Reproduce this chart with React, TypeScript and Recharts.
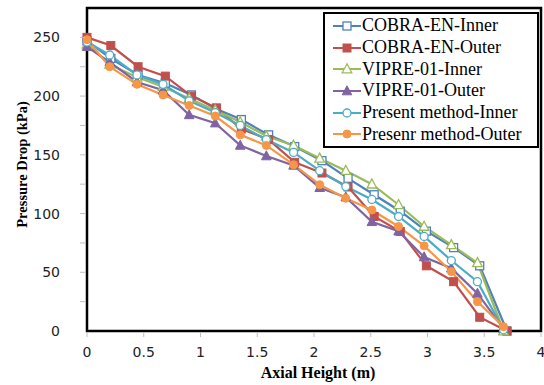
import React from 'react';
import { LineChart, Line, XAxis, YAxis, ReferenceArea, Label } from 'recharts';

const xCobra = [0, 0.21, 0.45, 0.69, 0.92, 1.14, 1.36, 1.6, 1.83, 2.07, 2.3, 2.53, 2.76, 2.99, 3.23, 3.46, 3.7];
const xOther = [0, 0.2, 0.44, 0.67, 0.9, 1.13, 1.35, 1.58, 1.82, 2.05, 2.28, 2.51, 2.745, 2.97, 3.21, 3.44, 3.67];

const cobraInner = [247, 232, 218, 211, 201, 189, 180, 167, 157, 145, 130, 116, 102, 85, 71, 55.5, 0];
const cobraOuter = [250, 243, 225, 217, 200, 190, 172, 163, 143.6, 134.5, 122.6, 97.5, 84.7, 55.5, 42, 11.7, 0];
const vipreInner = [244, 227, 216, 208, 198, 188, 178, 166, 158, 147, 136.5, 125, 107.5, 89, 73.4, 58, 0];
const vipreOuter = [242, 229, 212, 205, 184, 177, 158, 149, 141, 122, 114, 93, 85, 63, 53.5, 32, 2];
const presentInner = [246, 235, 218, 210, 196, 186, 175, 163, 152, 136.5, 123, 112, 97.5, 80.5, 60, 42, 1];
const presentOuter = [248, 225, 210, 201, 192, 183, 167, 158, 141.6, 124.6, 113, 103, 89, 72.5, 50.6, 25, 3.7];

const xTicks = [0, 0.5, 1, 1.5, 2, 2.5, 3, 3.5, 4];
const yTicks = [0, 25, 50, 75, 100, 125, 150, 175, 200, 225, 250, 275];
const yLabels = [0, 50, 100, 150, 200, 250];

const toPoints = (xs: number[], ys: number[]) => ys.map((y, i) => ({ x: xs[i], y }));

type Shape = 'square' | 'triangle' | 'circle';

const series: { name: string; color: string; shape: Shape; filled: boolean; data: { x: number; y: number }[] }[] = [
  { name: 'COBRA-EN-Inner', color: '#4F81BD', shape: 'square', filled: false, data: toPoints(xCobra, cobraInner) },
  { name: 'COBRA-EN-Outer', color: '#C0504D', shape: 'square', filled: true, data: toPoints(xCobra, cobraOuter) },
  { name: 'VIPRE-01-Inner', color: '#9BBB59', shape: 'triangle', filled: false, data: toPoints(xOther, vipreInner) },
  { name: 'VIPRE-01-Outer', color: '#8064A2', shape: 'triangle', filled: true, data: toPoints(xOther, vipreOuter) },
  { name: 'Present method-Inner', color: '#4BACC6', shape: 'circle', filled: false, data: toPoints(xOther, presentInner) },
  { name: 'Presenr method-Outer', color: '#F79646', shape: 'circle', filled: true, data: toPoints(xOther, presentOuter) },
];

const Marker = ({ cx, cy, shape, color, filled }: { cx: number; cy: number; shape: Shape; color: string; filled: boolean }) => {
  const fill = filled ? color : '#ffffff';
  const sw = filled ? 1 : 1.3;
  if (shape === 'square') {
    return <rect x={cx - 4} y={cy - 4} width={8} height={8} fill={fill} stroke={color} strokeWidth={sw} />;
  }
  if (shape === 'triangle') {
    return <polygon points={`${cx},${cy - 5.2} ${cx + 4.8},${cy + 3.8} ${cx - 4.8},${cy + 3.8}`} fill={fill} stroke={color} strokeWidth={sw} />;
  }
  return <circle cx={cx} cy={cy} r={4} fill={fill} stroke={color} strokeWidth={sw} />;
};

const XTick = (props: any) => {
  const { x, y, payload } = props;
  return (
    <g>
      <line x1={x} y1={y - 7} x2={x} y2={y - 2} stroke="#bfbfbf" strokeWidth={1} />
      <text x={x} y={y + 18} textAnchor="middle" fontFamily="DejaVu Sans" fontSize={14} fill="#222">
        {String(payload.value)}
      </text>
    </g>
  );
};

const YTick = (props: any) => {
  const { x, y, payload } = props;
  const v = payload.value;
  return (
    <g>
      {v !== 0 && v !== 275 && <line x1={x + 1} y1={y} x2={x + 6} y2={y} stroke="#bfbfbf" strokeWidth={1} />}
      {yLabels.includes(v) && (
        <text x={x - 19} y={y + 5} textAnchor="end" fontFamily="DejaVu Sans" fontSize={14} fill="#222">
          {String(v)}
        </text>
      )}
    </g>
  );
};

const LegendBox = () => (
  <div
    style={{
      position: 'absolute',
      left: 323,
      top: 12,
      border: '2.5px solid #000',
      background: '#fff',
      width: 216,
      padding: '1px 0',
      boxSizing: 'border-box',
      fontFamily: '"Liberation Serif", "Times New Roman", serif',
      fontSize: 18,
      color: '#000',
    }}
  >
    {series.map((s) => (
      <div key={s.name} style={{ display: 'flex', alignItems: 'center', height: 21.7 }}>
        <svg width={37} height={16} style={{ flex: 'none' }}>
          <line x1={8} y1={8} x2={36} y2={8} stroke={s.color} strokeWidth={2} />
          <Marker cx={22} cy={8} shape={s.shape} color={s.color} filled={s.filled} />
        </svg>
        <span style={{ whiteSpace: 'nowrap', lineHeight: '21px' }}>{s.name}</span>
      </div>
    ))}
  </div>
);

export default function App() {
  return (
    <div style={{ position: 'absolute', left: 0, top: 0, width: 544, height: 385, background: '#fff' }}>
      <LineChart width={544} height={385} margin={{ top: 8, right: 3, bottom: 0, left: 0 }}>
        <XAxis
          type="number"
          dataKey="x"
          domain={[0, 4]}
          ticks={xTicks}
          interval={0}
          axisLine={false}
          tickLine={false}
          tick={<XTick />}
          height={54}
          allowDuplicatedCategory={false}
        >
          <Label
            content={(p: any) => {
              const vb = p.viewBox;
              return (
                <text x={vb.x + vb.width / 2 + 4} y={vb.y + 47} textAnchor="middle" fontFamily='"Liberation Serif", serif' fontWeight="bold" fontSize={16} fill="#000">
                  Axial Height (m)
                </text>
              );
            }}
          />
        </XAxis>
        <YAxis
          type="number"
          domain={[0, 275]}
          ticks={yTicks}
          interval={0}
          axisLine={false}
          tickLine={false}
          tick={<YTick />}
          width={87}
        >
          <Label
            content={(p: any) => {
              const vb = p.viewBox;
              const cx = vb.x + 27;
              const cy = vb.y + vb.height / 2 - 5;
              return (
                <text x={cx} y={cy} transform={`rotate(-90 ${cx} ${cy})`} textAnchor="middle" fontFamily='"Liberation Serif", serif' fontWeight="bold" fontSize={14.5} fill="#000">
                  Pressure Drop (kPa)
                </text>
              );
            }}
          />
        </YAxis>
        {series.map((s) => (
          <Line
            key={s.name}
            data={s.data}
            dataKey="y"
            name={s.name}
            stroke={s.color}
            strokeWidth={2.2}
            isAnimationActive={false}
            dot={(p: any) => <Marker key={`${s.name}-${p.index}`} cx={p.cx} cy={p.cy} shape={s.shape} color={s.color} filled={s.filled} />}
            activeDot={false}
          />
        ))}
        <ReferenceArea x1={0} x2={4} y1={0} y2={275} fill="none" stroke="#000" strokeWidth={2.5} />
      </LineChart>
      <LegendBox />
    </div>
  );
}
